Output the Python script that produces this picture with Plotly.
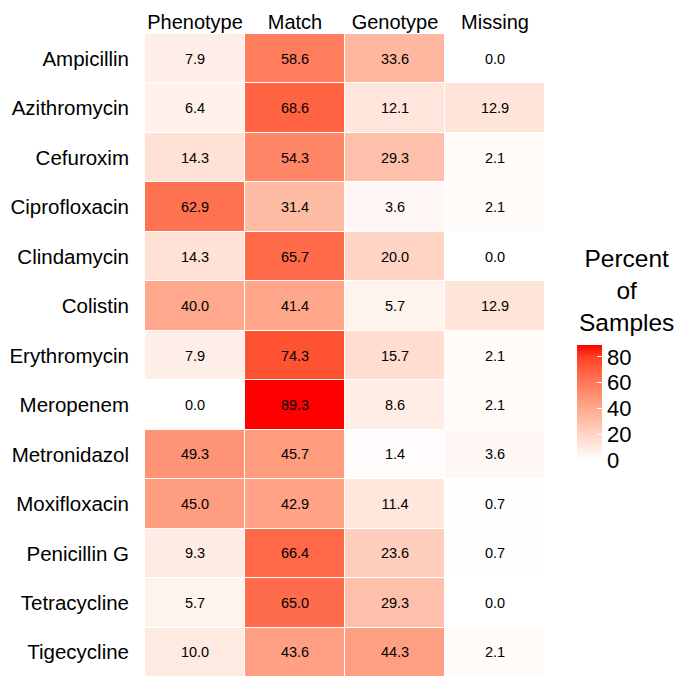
import numpy as np
import plotly.graph_objects as go

# Data
drugs = ['Ampicillin', 'Azithromycin', 'Cefuroxim', 'Ciprofloxacin', 'Clindamycin',
         'Colistin', 'Erythromycin', 'Meropenem', 'Metronidazol', 'Moxifloxacin',
         'Penicillin G', 'Tetracycline', 'Tigecycline']
categories = ['Phenotype', 'Match', 'Genotype', 'Missing']

phenotype = [7.9, 6.4, 14.3, 62.9, 14.3, 40.0, 7.9, 0.0, 49.3, 45.0, 9.3, 5.7, 10.0]
match = [58.6, 68.6, 54.3, 31.4, 65.7, 41.4, 74.3, 89.3, 45.7, 42.9, 66.4, 65.0, 43.6]
genotype = [33.6, 12.1, 29.3, 3.6, 20.0, 5.7, 15.7, 8.6, 1.4, 11.4, 23.6, 29.3, 44.3]
missing = [0.0, 12.9, 2.1, 2.1, 0.0, 12.9, 2.1, 2.1, 3.6, 0.7, 0.7, 0.0, 2.1]

z = np.array([phenotype, match, genotype, missing]).T


# white -> red gradient interpolated in Lab space (like ggplot's scale_fill_gradient)
def srgb_to_lab(rgb):
    c = np.array(rgb) / 255.0
    c = np.where(c > 0.04045, ((c + 0.055) / 1.055) ** 2.4, c / 12.92)
    m = np.array([[0.4124, 0.3576, 0.1805], [0.2126, 0.7152, 0.0722], [0.0193, 0.1192, 0.9505]])
    xyz = m @ c / np.array([0.95047, 1.0, 1.08883])
    f = np.where(xyz > 0.008856, np.cbrt(xyz), 7.787 * xyz + 16 / 116)
    return np.array([116 * f[1] - 16, 500 * (f[0] - f[1]), 200 * (f[1] - f[2])])


def lab_to_srgb(lab):
    fy = (lab[0] + 16) / 116
    fx = fy + lab[1] / 500
    fz = fy - lab[2] / 200
    f = np.array([fx, fy, fz])
    xyz = np.where(f ** 3 > 0.008856, f ** 3, (f - 16 / 116) / 7.787) * np.array([0.95047, 1.0, 1.08883])
    m = np.array([[3.2406, -1.5372, -0.4986], [-0.9689, 1.8758, 0.0415], [0.0557, -0.2040, 1.0570]])
    c = m @ xyz
    c = np.where(c > 0.0031308, 1.055 * np.clip(c, 0, None) ** (1 / 2.4) - 0.055, 12.92 * c)
    c = np.clip(c, 0, 1) * 255
    return 'rgb(%d,%d,%d)' % tuple(np.round(c))


lo, hi = srgb_to_lab([255, 255, 255]), srgb_to_lab([255, 0, 0])
colorscale = [[t, lab_to_srgb(lo + (hi - lo) * t)] for t in np.linspace(0, 1, 11)]

fig = go.Figure(go.Heatmap(
    z=z, x=categories, y=drugs,
    colorscale=colorscale, zmin=0, zmax=z.max(),
    xgap=1, ygap=1,
    texttemplate='%{z:.1f}', textfont=dict(size=14.5, color='black'),
    colorbar=dict(
        tickvals=[0, 20, 40, 60, 80], ticks='inside', tickcolor='white', ticklen=5,
        tickfont=dict(size=22, color='black'),
        thickness=25, len=115, lenmode='pixels',
        x=1.08, xanchor='left', xpad=0, y=0.3375, yanchor='bottom', ypad=0,
        outlinewidth=0,
    ),
))

# legend title, centred like ggplot's
fig.add_annotation(
    text='Percent<br>of<br>Samples', xref='paper', yref='paper',
    x=1.2025, y=0.675, xanchor='center', yanchor='top', align='center',
    showarrow=False, font=dict(size=24.5, color='black'),
)

# page body adds an 8px margin, so the figure is sized 8px smaller
fig.update_layout(
    width=677, height=669,
    margin=dict(l=137, r=140, t=26, b=0),
    plot_bgcolor='white', paper_bgcolor='white',
    font=dict(family='Liberation Sans, Arial, sans-serif', color='black'),
    xaxis=dict(side='top', tickfont=dict(size=20, color='black'), showgrid=False,
               ticks='', automargin=False, ticklabelstandoff=0),
    yaxis=dict(autorange='reversed', tickfont=dict(size=20.5, color='black'), showgrid=False,
               ticks='', automargin=False, ticklabelstandoff=15),
)

fig.write_html("out.html")
